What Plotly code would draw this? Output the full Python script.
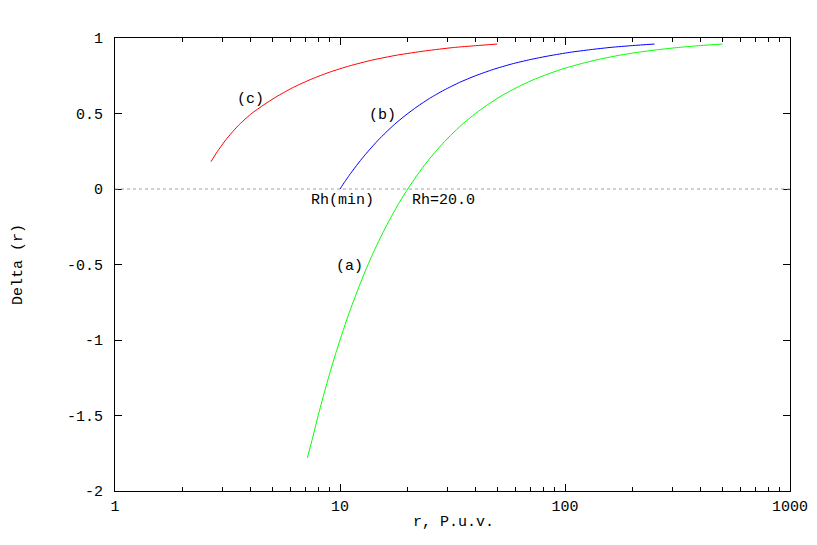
import plotly.graph_objects as go

# Curve (a): Rh = 20.0 (green)
r_a = [7.16, 7.5, 8.0, 8.5, 9.0, 9.6, 10.3, 11.0, 12.0, 13.0, 14.2, 15.5, 17.0, 18.5, 20.0, 22.0, 24.5,
       27.5, 31.0, 35.0, 40.0, 46.0, 53.0, 62.0, 73.0, 86.0, 100.0, 120.0, 145.0, 175.0, 210.0, 260.0,
       320.0, 400.0, 500.0]
d_a = [-1.78, -1.667, -1.5, -1.353, -1.222, -1.083, -0.942, -0.818, -0.667, -0.538, -0.408, -0.29,
       -0.176, -0.081, 0.0, 0.091, 0.184, 0.273, 0.355, 0.429, 0.5, 0.565, 0.623, 0.677, 0.726, 0.767,
       0.8, 0.833, 0.862, 0.886, 0.905, 0.923, 0.9375, 0.95, 0.96]

# Curve (b): Rh(min) (blue)
r_b = [10.0, 10.5, 11.0, 11.7, 12.5, 13.5, 14.7, 16.0, 17.5, 19.5, 22.0, 25.0, 29.0, 34.0, 40.0, 48.0,
       58.0, 70.0, 85.0, 105.0, 130.0, 160.0, 200.0, 250.0]
d_b = [0.0, 0.048, 0.091, 0.145, 0.2, 0.259, 0.32, 0.375, 0.429, 0.487, 0.545, 0.6, 0.655, 0.706, 0.75,
       0.792, 0.828, 0.857, 0.882, 0.905, 0.923, 0.938, 0.95, 0.96]

# Curve (c) (red)
r_c = [2.67, 2.85, 3.08, 3.3, 3.53, 4.0, 4.6, 5.3, 6.2, 7.5, 9.0, 11.0, 14.0, 18.0, 24.0, 32.0, 40.0, 50.0]
d_c = [0.181, 0.248, 0.318, 0.372, 0.42, 0.494, 0.559, 0.617, 0.673, 0.729, 0.774, 0.815, 0.855, 0.887,
       0.915, 0.937, 0.949, 0.96]

x_ticks = [1, 10, 100, 1000]
x_ticktext = ["1", "10", "100", "1000"]
y_ticks = [-2, -1.5, -1, -0.5, 0, 0.5, 1]
y_ticktext = ["-2", "-1.5", "-1", "-0.5", "0", "0.5", "1"]

FONT = "Liberation Mono, Courier New, monospace"
FS = 15

# page body has an 8px margin: figure is placed at (8, 8)
OFF = 8
PL, PR, PT, PB = 115, 790, 38, 491  # target plot-area pixels in the window
W, H = 817 - OFF, 545 - OFF

fig = go.Figure()
fig.add_trace(go.Scatter(x=r_c, y=d_c, mode="lines", line=dict(color="#ff0000", width=1, shape="spline", smoothing=0.6), showlegend=False))
fig.add_trace(go.Scatter(x=r_b, y=d_b, mode="lines", line=dict(color="#0000ff", width=1, shape="spline", smoothing=0.6), showlegend=False))
fig.add_trace(go.Scatter(x=r_a, y=d_a, mode="lines", line=dict(color="#00ff00", width=1, shape="spline", smoothing=0.6), showlegend=False))

# dotted zero line
fig.add_shape(type="line", xref="paper", yref="y", x0=0, x1=1, y0=0, y1=0,
              line=dict(color="#a0a0a0", width=1, dash="dot"))

ann_font = dict(family=FONT, size=FS, color="black")
fig.add_annotation(x=0.6, y=0.59, xref="x", yref="y", text="(c)", showarrow=False, font=ann_font)
fig.add_annotation(x=1.191, y=0.49, xref="x", yref="y", text="(b)", showarrow=False, font=ann_font)
fig.add_annotation(x=1.013, y=-0.075, xref="x", yref="y", text="Rh(min)", showarrow=False, font=ann_font)
fig.add_annotation(x=1.311, y=-0.075, xref="x", yref="y", text="Rh=20.0", showarrow=False, xanchor="left", font=ann_font)
fig.add_annotation(x=1.04, y=-0.51, xref="x", yref="y", text="(a)", showarrow=False, font=ann_font)

pw, ph = PR - PL, PB - PT
# axis titles
fig.add_annotation(x=(453 - PL) / pw, y=-(522 - PB) / ph, xref="paper", yref="paper", text="r, P.u.v.",
                   showarrow=False, font=ann_font, xanchor="center", yanchor="middle")
fig.add_annotation(x=-(PL - 18) / pw, y=(PB - 265) / ph, xref="paper", yref="paper", text="Delta (r)",
                   showarrow=False, textangle=-90, font=ann_font, xanchor="center", yanchor="middle")

fig.update_xaxes(type="log", range=[0, 3], tickvals=x_ticks, ticktext=x_ticktext,
                 ticks="inside", ticklen=7, tickwidth=1, tickcolor="black",
                 showline=True, linecolor="black", linewidth=1, mirror="ticks",
                 showgrid=False, zeroline=False,
                 minor=dict(ticks="inside", ticklen=4, tickwidth=1, tickcolor="black", dtick="D1", showgrid=False),
                 tickfont=dict(family=FONT, size=FS, color="black"), ticklabelstandoff=1)
fig.update_yaxes(range=[-2, 1], tickvals=y_ticks, ticktext=y_ticktext,
                 ticks="inside", ticklen=7, tickwidth=1, tickcolor="black",
                 showline=True, linecolor="black", linewidth=1, mirror="ticks",
                 showgrid=False, zeroline=False,
                 tickfont=dict(family=FONT, size=FS, color="black"), ticklabelstandoff=8)

fig.update_layout(width=W, height=H,
                  margin=dict(l=PL - OFF, r=W + OFF - PR, t=PT - OFF, b=H + OFF - PB, autoexpand=False),
                  paper_bgcolor="white", plot_bgcolor="white",
                  font=dict(family=FONT, size=FS, color="black"))

fig.write_html("out.html")
